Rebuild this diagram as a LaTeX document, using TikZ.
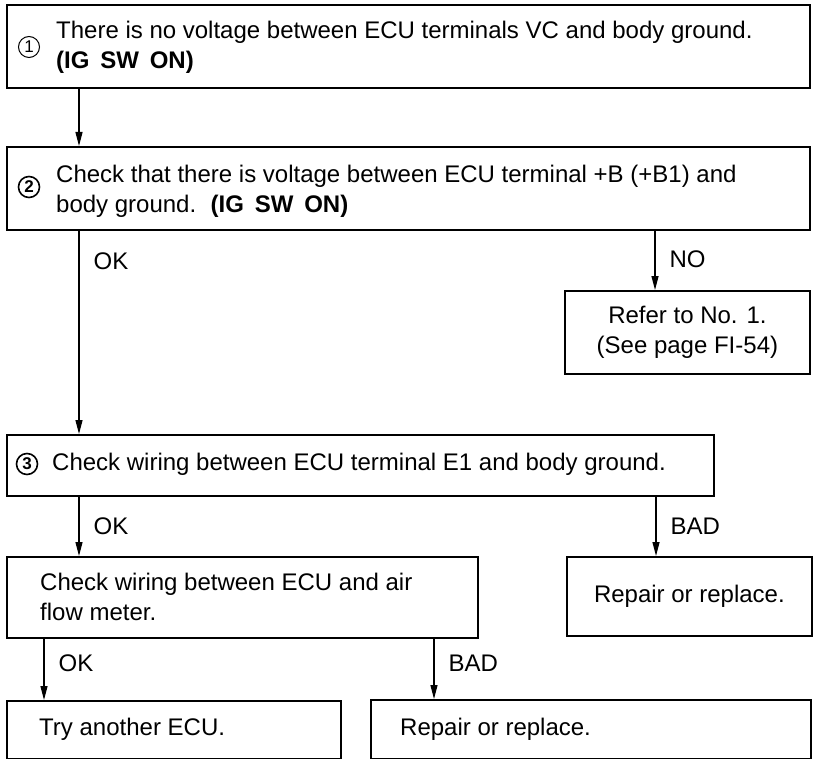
\documentclass[tikz,border=0pt]{standalone}
\usepackage{fontspec}
\setmainfont{Liberation Sans}
\usetikzlibrary{arrows.meta, positioning}

\newcommand{\bodyfont}{\fontsize{24}{30}\selectfont}

\begin{document}
\begin{tikzpicture}[
    x=1pt, y=-1pt,
    box/.style={rectangle, draw, line width=1.8pt, anchor=north west,
                inner sep=0pt, align=center, font=\bodyfont},
    txt/.style={anchor=west, inner sep=0pt, align=left, font=\bodyfont},
    num/.style={circle, draw, line width=1pt, inner sep=0pt, minimum size=21pt,
                font=\fontsize{17}{17}\selectfont},
    numb/.style={num, line width=1.6pt, font=\fontsize{17}{17}\selectfont\bfseries},
    arr/.style={-{Triangle[length=14pt, width=7pt]}, line width=1.3pt},
    lbl/.style={right, inner sep=0pt, xshift=14pt, font=\bodyfont}
]
\useasboundingbox (0,0) rectangle (813,759);

% Step 1
\node[box, minimum width=803pt, minimum height=83pt] (s1) at (6,4) {};
\node[num] (n1) at (29,47) {1};
\node[txt] (t1) at (56,47) {There is no voltage between ECU terminals VC and body ground.\\
    \textbf{(IG\hspace{0.45em}SW\hspace{0.45em}ON)}};

% Step 2
\node[box, minimum width=803pt, minimum height=83pt] (s2) at (6,146) {};
\node[numb] (n2) at (29,187) {2};
\node[txt] (t2) at (56,191) {Check that there is voltage between ECU terminal +B (+B1) and\\
    body ground.\hspace{0.6em}\textbf{(IG\hspace{0.45em}SW\hspace{0.45em}ON)}};
\node[box, minimum width=245pt, minimum height=83pt] (refer) at (564,290)
    {Refer to No. 1.\\(See page FI-54)};

% Step 3
\node[box, minimum width=707pt, minimum height=61pt] (s3) at (6,434) {};
\node[numb] (n3) at (27,464) {3};
\node[txt] (t3) at (52,464) {Check wiring between ECU terminal E1 and body ground.};
\node[box, minimum width=245pt, minimum height=79pt] (fix1) at (566,556) {Repair or replace.};

% Step 4
\node[box, minimum width=471pt, minimum height=81pt] (s4) at (6,556) {};
\node[txt] (t4) at (40,597) {Check wiring between ECU and air\\flow meter.};
\node[box, minimum width=334pt, minimum height=58pt] (ecu) at (6,700) {};
\node[txt] (t5) at (39,729) {Try another ECU.};
\node[box, minimum width=440pt, minimum height=59pt] (fix2) at (370,699) {};
\node[txt] (t6) at (400,729) {Repair or replace.};

% Arrows
\draw[arr] ([xshift=73pt]s1.south west) -- ([xshift=73pt]s2.north west);
\draw[arr] ([xshift=73pt]s2.south west) -- node[lbl, pos=0.15] {OK} ([xshift=73pt]s3.north west);
\draw[arr] ([xshift=91pt]refer.north west |- s2.south) -- node[lbl, pos=0.48] {NO} ([xshift=91pt]refer.north west);
\draw[arr] ([xshift=73pt]s3.south west) -- node[lbl] {OK} ([xshift=73pt]s4.north west);
\draw[arr] ([xshift=90pt]fix1.north west |- s3.south) -- node[lbl] {BAD} ([xshift=90pt]fix1.north west);
\draw[arr] ([xshift=38pt]s4.south west) -- node[lbl, pos=0.4] {OK} ([xshift=38pt]ecu.north west);
\draw[arr] ([xshift=64pt]fix2.north west |- s4.south) -- node[lbl, pos=0.4] {BAD} ([xshift=64pt]fix2.north west);
\end{tikzpicture}
\end{document}
